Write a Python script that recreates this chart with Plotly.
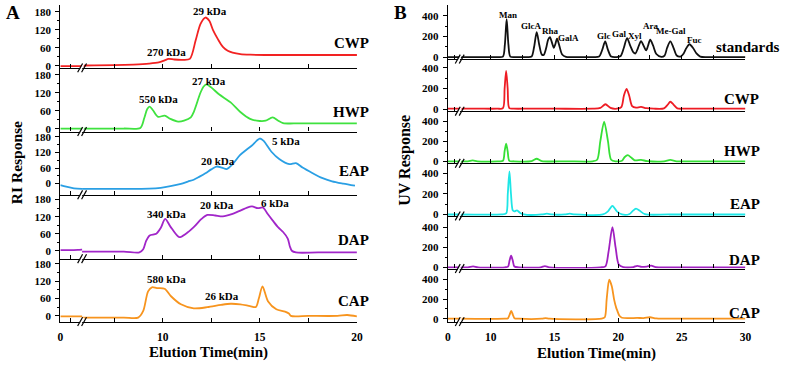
import plotly.graph_objects as go

# ---------------- DATA ----------------
# Panel A (RI response, elution time in min)
A_CWP_t = [0, 0.5, 1.1, 6.0, 7.5, 8.5, 9.3, 9.8, 10.1, 10.3, 10.6, 11.0, 11.4, 11.7, 11.95, 12.2, 12.4, 12.6, 12.85, 13.1, 13.35, 13.6, 14.0, 14.5, 15.5, 17, 18.5, 20]
A_CWP_v = [-1, -1, -1, 1, 2, 4, 7, 11, 18, 23, 21, 20, 23, 85, 140, 161, 150, 118, 88, 63, 50, 44, 39, 37, 36, 36, 36, 36]

A_HWP_t = [0, 0.5, 1.1, 6.0, 8.0, 8.85, 9.05, 9.2, 9.33, 9.5, 9.77, 10.1, 10.4, 10.8, 11.1, 11.45, 11.6, 11.95, 12.1, 12.25, 12.5, 12.9, 13.5, 14.0, 14.5, 15.0, 15.3, 15.66, 15.95, 16.2, 17, 18.5, 20]
A_HWP_v = [1, 1, 1, 1, 1, 3, 35, 65, 74, 62, 40, 44, 33, 24, 27, 38, 56, 121, 140, 148, 138, 115, 88, 56, 33, 26, 27, 38, 27, 19, 18, 18, 18]

A_EAP_t = [0, 0.3, 0.7, 1.1, 6.0, 8.0, 9.3, 9.9, 10.4, 10.94, 11.3, 11.6, 11.9, 12.2, 12.5, 12.77, 13.05, 13.3, 13.6, 13.98, 14.3, 14.58, 14.85, 15.0, 15.2, 15.6, 16.0, 16.52, 16.86, 17.2, 17.7, 18.2, 18.72, 19.3, 19.9]
A_EAP_v = [-6, -12, -18, -20, -20, -20, -19, -16, -10, -1, 8, 15, 27, 40, 55, 66, 62, 56, 75, 110, 130, 146, 166, 174, 165, 123, 95, 75, 79, 62, 41, 22, 9, 0, -8]

A_DAP_t = [0, 0.5, 0.9, 1.1, 6.0, 8.0, 8.8, 9.0, 9.15, 9.33, 9.67, 9.9, 10.13, 10.4, 10.85, 11.2, 11.6, 12.0, 12.3, 12.7, 13.1, 13.6, 14.0, 14.35, 14.6, 14.9, 15.17, 15.4, 15.67, 15.95, 16.2, 16.44, 16.55, 16.65, 16.86, 18, 20]
A_DAP_v = [2, 2, 3, 4, -3, -3, -6, 5, 35, 54, 60, 80, 112, 85, 48, 60, 83, 112, 126, 124, 121, 130, 141, 152, 156, 150, 152, 130, 106, 82, 66, 43, 15, 0, -6, -6, -6]

A_CAP_t = [0, 0.5, 1.1, 6.0, 8.0, 8.74, 9.0, 9.25, 9.45, 9.7, 10.1, 10.43, 10.94, 11.6, 12.3, 13.0, 13.5, 14.0, 14.5, 14.8, 14.95, 15.14, 15.42, 15.85, 16.3, 16.5, 16.6, 17.5, 19.0, 19.5, 20]
A_CAP_v = [-2, -2, -2, -6, -6, -6, 17, 85, 99, 96, 94, 68, 40, 26, 30, 38, 42, 40, 34, 31, 60, 102, 51, 23, 15, 8, 0, 0, 0, 3, -2]

A_names = ["CWP", "HWP", "EAP", "DAP", "CAP"]
A_ticks_y = [0, 60, 120, 180]
A_minor_y = [30, 90, 150]
A_labels = ["29 kDa", "270 kDa", "27 kDa", "550 kDa", "5 kDa", "20 kDa", "340 kDa", "20 kDa", "6 kDa", "580 kDa", "26 kDa"]

# Panel B (UV response, elution time in min)
B_STD_t = [0, 0.5, 1.0, 7.5, 9.0, 10.5, 10.95, 11.1, 11.24, 11.38, 11.53, 11.9, 12.8, 13.2, 13.4, 13.6, 13.8, 14.0, 14.15, 14.35, 14.5, 14.64, 14.8, 14.95, 15.05, 15.2, 15.38, 15.6, 15.9, 16.5, 18.0, 18.5, 18.75, 18.98, 19.2, 19.45, 19.9, 20.2, 20.45, 20.7, 20.95, 21.2, 21.36, 21.55, 21.8, 22.0, 22.2, 22.35, 22.52, 22.75, 23.0, 23.4, 23.65, 23.85, 24.1, 24.35, 24.6, 24.9, 25.15, 25.35, 25.6, 25.9, 26.15, 26.45, 27.0, 30]
B_STD_v = [0, 0, 0, 0, 0, 0, 5, 120, 368, 120, 5, 0, 0, 5, 100, 241, 120, 25, 20, 90, 170, 193, 140, 90, 120, 178, 110, 25, 2, 0, 0, 5, 70, 152, 70, 5, 0, 10, 90, 184, 110, 45, 35, 85, 155, 110, 65, 110, 168, 110, 30, 2, 15, 90, 152, 90, 15, 5, 35, 85, 124, 85, 35, 5, 0, 0]

B_CWP_t = [0, 0.5, 1.0, 7.5, 9, 10.5, 10.95, 11.08, 11.2, 11.32, 11.45, 11.8, 13, 15, 18.0, 18.6, 19.0, 19.4, 19.9, 20.25, 20.45, 20.66, 20.87, 21.1, 21.4, 21.8, 22.2, 22.8, 23.6, 23.9, 24.1, 24.35, 24.65, 25.2, 27, 30]
B_CWP_v = [5, 5, 5, 5, 5, 5, 10, 200, 372, 200, 10, 5, 5, 5, 5, 12, 48, 12, 5, 20, 130, 197, 130, 30, 15, 22, 10, 5, 8, 45, 72, 45, 8, 5, 5, 5]

B_HWP_t = [0, 0.5, 1.0, 7.5, 8.2, 8.57, 8.95, 10.5, 10.95, 11.08, 11.2, 11.32, 11.45, 11.8, 13.2, 13.6, 14.0, 16, 18.0, 18.35, 18.6, 18.9, 19.2, 19.45, 19.8, 20.3, 20.5, 20.76, 21.0, 21.3, 21.8, 22.3, 23.6, 24.1, 24.6, 26, 30]
B_HWP_v = [0, 0, 0, 0, 0, 8, 0, 0, 5, 100, 176, 100, 5, 0, 2, 25, 2, 0, 0, 15, 200, 393, 200, 15, 0, 5, 40, 61, 40, 10, 13, 2, 0, 13, 0, 0, 0]

B_EAP_t = [0, 0.5, 1.0, 7.5, 10.8, 11.2, 11.33, 11.46, 11.58, 11.72, 11.85, 12.05, 12.3, 12.6, 14.0, 14.4, 14.8, 15.8, 16.2, 16.6, 18.8, 19.2, 19.55, 19.9, 20.3, 20.9, 21.15, 21.4, 21.7, 22.1, 24, 30]
B_EAP_v = [0, 0, 0, 0, 0, 10, 200, 416, 200, 40, 30, 40, 15, 0, 0, 8, 0, 0, 8, 0, 0, 30, 83, 30, 0, 5, 35, 57, 35, 3, 0, 0]

B_DAP_t = [0, 0.5, 1.0, 7.5, 8.2, 8.6, 9.0, 11.1, 11.35, 11.47, 11.59, 11.72, 11.85, 12.2, 13.9, 14.25, 14.6, 18.6, 19.0, 19.25, 19.55, 19.8, 20.05, 20.4, 21.2, 21.5, 21.85, 22.25, 22.6, 22.95, 24, 30]
B_DAP_v = [2, 2, 2, 2, 2, 12, 2, 2, 10, 70, 117, 70, 10, 2, 2, 14, 2, 2, 12, 160, 400, 200, 30, 5, 5, 16, 6, 10, 18, 5, 2, 2]

B_CAP_t = [0, 0.5, 1.0, 7.5, 11.1, 11.35, 11.47, 11.6, 11.73, 11.85, 12.2, 14, 14.3, 14.6, 18.7, 18.95, 19.1, 19.3, 19.5, 19.68, 19.85, 19.94, 20.1, 20.3, 20.8, 21.5, 22.0, 22.5, 23.0, 25, 30]
B_CAP_v = [0, 0, 0, 0, 0, 5, 40, 80, 40, 5, 0, 0, 6, 0, 0, 15, 200, 397, 330, 197, 110, 80, 30, 10, 5, 8, 6, 15, 3, 0, 0]

B_names = ["standards", "CWP", "HWP", "EAP", "DAP", "CAP"]
B_ticks_y = [0, 200, 400]
B_minor_y = [100, 300]
B_sugars = ["Man", "GlcA", "Rha", "GalA", "Glc", "Gal", "Xyl", "Ara", "Me-Gal", "Fuc"]

# ---------------- STYLE / LAYOUT ----------------
W, H = 788, 366
FONT = "Liberation Serif"


def X(px):
    return px / W


def Y(py):
    return 1 - py / H


A_colors = ["#f22222", "#3fe23f", "#2a9fe4", "#a126c9", "#f7941e"]
B_colors = ["#111111", "#ee1c24", "#36e036", "#1ee6e6", "#a020c0", "#f7941e"]

A_series = [(A_CWP_t, A_CWP_v), (A_HWP_t, A_HWP_v), (A_EAP_t, A_EAP_v), (A_DAP_t, A_DAP_v), (A_CAP_t, A_CAP_v)]
B_series = [(B_STD_t, B_STD_v), (B_CWP_t, B_CWP_v), (B_HWP_t, B_HWP_v), (B_EAP_t, B_EAP_v), (B_DAP_t, B_DAP_v), (B_CAP_t, B_CAP_v)]

A_rows_px = [(4, 68), (68, 132.7), (132.7, 197), (197, 262), (262, 326)]
A_yranges = [[-7, 203], [-9, 203], [-43, 201], [-28, 197], [-20, 198]]
B_rows_px = [(4, 59), (59, 112), (112, 165), (165, 218.5), (218.5, 272), (272, 326)]
B_yranges = [[-19, 505], [-19, 486], [-20, 498], [-14, 495], [-10, 512], [-30, 510]]

A_xg = dict(x0=58, xb=80, x1=358, t10=161.5, tend=20)
B_xg = dict(x0=450, xb=462, x1=751, t10=493.5, tend=30)
A_xticks = [7.5, 10, 12.5, 15, 17.5, 20]
A_xtext = ["", "10", "", "15", "", "20"]
B_xticks = [10, 12.5, 15, 17.5, 20, 22.5, 25, 27.5, 30]
B_xtext = ["10", "", "15", "", "20", "", "25", "", "30"]

ytickfont = dict(family=FONT, size=11, color="black", weight="bold")
xtickfont = dict(family=FONT, size=11.5, color="black", weight="bold")

fig = go.Figure()
layout = dict(
    width=W, height=H, margin=dict(l=0, r=0, t=0, b=0),
    paper_bgcolor="white", plot_bgcolor="rgba(0,0,0,0)",
    showlegend=False, font=dict(family=FONT, color="black"),
)
shapes = []
annotations = []

counter = {"x": 0, "y": 0}


def nm(prefix, k):
    return prefix + "axis" + ("" if k == 1 else str(k))


def rf(prefix, k):
    return prefix + ("" if k == 1 else str(k))


def build_panel(series, colors, rows_px, yranges, xg, yticks, yminor, xticks, xtext):
    scale = (xg["x1"] - xg["t10"]) / (xg["tend"] - 10)
    left_end = (xg["xb"] - xg["x0"]) / scale
    right_start = 10 - (xg["t10"] - xg["xb"]) / scale
    n = len(series)
    for i, ((t, v), col) in enumerate(zip(series, colors)):
        counter["y"] += 1
        yk = counter["y"]
        xl = counter["x"] + 1
        xr = counter["x"] + 2
        counter["x"] += 2
        top, bot = rows_px[i]
        last = i == n - 1
        layout[nm("y", yk)] = dict(
            domain=[Y(bot), Y(top)], range=yranges[i], anchor=rf("x", xl),
            showline=True, linecolor="black", linewidth=1.3, showgrid=False, zeroline=False,
            ticks="outside", ticklen=4, tickwidth=1.2, tickcolor="black",
            tickmode="array", tickvals=yticks, tickfont=ytickfont, ticklabelstandoff=2,
            minor=dict(ticks="outside", ticklen=2, tickwidth=1, tickcolor="black", tickvals=yminor, showgrid=False),
        )
        common_x = dict(
            anchor=rf("y", yk), showline=True, linecolor="black", linewidth=1.3,
            showgrid=False, zeroline=False, ticks="inside", ticklen=4, tickwidth=1.2,
            tickcolor="black", tickmode="array", tickfont=xtickfont, showticklabels=last,
            ticklabelstandoff=4,
        )
        layout[nm("x", xl)] = dict(common_x, domain=[X(xg["x0"]), X(xg["xb"])], range=[0, left_end],
                                   tickvals=[0, 0.5], ticktext=["0", ""])
        layout[nm("x", xr)] = dict(common_x, domain=[X(xg["xb"]), X(xg["x1"])], range=[right_start, xg["tend"]],
                                   tickvals=xticks, ticktext=xtext)
        for xk in (xl, xr):
            fig.add_trace(go.Scatter(
                x=t, y=v, mode="lines", line=dict(color=col, width=1.8, shape="spline", smoothing=0.8),
                xaxis=rf("x", xk), yaxis=rf("y", yk), hoverinfo="skip",
            ))
        cx = xg["xb"]
        shapes.append(dict(type="path", xref="paper", yref="paper",
                           path=f"M {X(cx-3.5)},{Y(bot+4)} L {X(cx+0.5)},{Y(bot-4)} L {X(cx+2.5)},{Y(bot-4)} L {X(cx-1.5)},{Y(bot+4)} Z",
                           fillcolor="white", line=dict(width=0)))
        for off in (-2, 2):
            shapes.append(dict(type="line", xref="paper", yref="paper",
                               x0=X(cx + off - 2.5), y0=Y(bot + 4.5), x1=X(cx + off + 2.5), y1=Y(bot - 4.5),
                               line=dict(color="black", width=1.2)))


build_panel(A_series, A_colors, A_rows_px, A_yranges, A_xg, A_ticks_y, A_minor_y, A_xticks, A_xtext)
build_panel(B_series, B_colors, B_rows_px, B_yranges, B_xg, B_ticks_y, B_minor_y, B_xticks, B_xtext)


def text(s, px, py, size, anchor="center", angle=0):
    annotations.append(dict(
        text=s, x=X(px), y=Y(py), xref="paper", yref="paper", showarrow=False,
        xanchor=anchor, yanchor="middle", textangle=angle,
        font=dict(family=FONT, size=size, color="black", weight="bold"),
    ))


text("A", 10, 12, 19)
text("B", 402, 12, 19)
text("RI Response", 13, 164, 15.5, angle=-90)
text("UV Response", 407, 162, 16, angle=-90)
text("Elution Time(min)", 208, 357.5, 15)
text("Elution Time(min)", 600, 358, 15)

A_name_py = [43, 113, 173, 243, 305]
for s, py in zip(A_names, A_name_py):
    text(s, 372, py, 15, anchor="right")
B_name_py = [47, 100, 153, 206, 263, 317]
B_name_px = [788, 767, 768, 768, 768, 768]
for s, px, py in zip(B_names, B_name_px, B_name_py):
    text(s, px, py, 15, anchor="right")

A_label_pos = [(209, 10), (165, 52), (208, 81), (157, 100), (286, 142), (217, 163),
               (165, 217), (216, 207), (275, 205), (165, 283), (222, 300)]
for s, (px, py) in zip(A_labels, A_label_pos):
    text(s, px, py, 11)

B_sugar_pos = [(511, 14), (534, 25), (554, 30), (572, 38), (608, 36), (624, 34),
               (639, 36), (655, 25), (676, 30), (699, 40)]
for s, (px, py) in zip(B_sugars, B_sugar_pos):
    text(s, px, py, 9)

layout["shapes"] = shapes
layout["annotations"] = annotations
fig.update_layout(**layout)
fig.write_html("out.html")
